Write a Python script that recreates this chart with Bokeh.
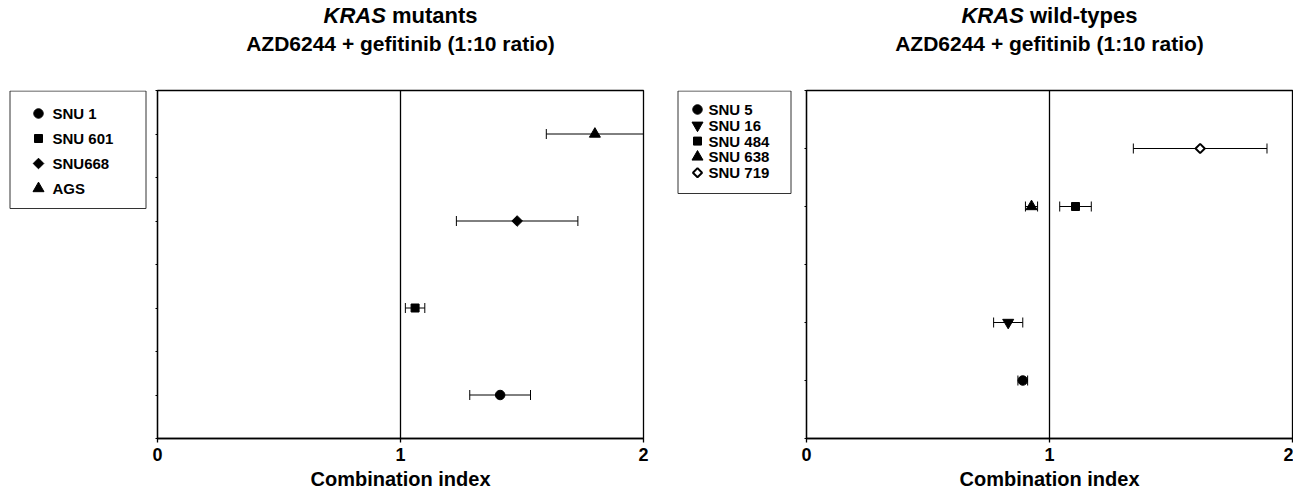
import math
from bokeh.plotting import figure
from bokeh.models import (ColumnDataSource, Whisker, TeeHead, Span,
                          FixedTicker, Range1d)
from bokeh.layouts import row, column
from bokeh.core.properties import value
from bokeh.embed import file_html
from bokeh.resources import INLINE

FONT = "Liberation Sans"

# ---- data ----
left_lines = ["SNU 1", "SNU 601", "SNU668", "AGS"]
left_ci = [1.41, 1.06, 1.48, 1.80]
left_err = [0.125, 0.04, 0.25, 0.20]
left_pos = [1, 3, 5, 7]
left_markers = ["circle", "square", "diamond", "triangle"]

right_lines = ["SNU 5", "SNU 16", "SNU 484", "SNU 638", "SNU 719"]
right_ci = [0.89, 0.83, 1.107, 0.926, 1.62]
right_err = [0.02, 0.06, 0.065, 0.025, 0.275]
right_pos = [1, 2, 4, 4, 5]
right_markers = ["circle", "inverted_triangle", "square", "triangle", "open_diamond"]

x_ticks = [0, 1, 2]
x_label = "Combination index"
subtitle = "AZD6244 + gefitinib (1:10 ratio)"
title_italic = ["KRAS", "KRAS"]
title_rest = ["mutants", "wild-types"]

# ---- styles / layout ----
MARKER_STYLE = {
    "circle": dict(marker="circle", size=9.5, fill_color="black", line_color="black", angle=0, line_width=1),
    "square": dict(marker="square", size=8, fill_color="black", line_color="black", angle=0, line_width=1),
    "diamond": dict(marker="square", size=7.5, fill_color="black", line_color="black", angle=math.pi / 4, line_width=1),
    "triangle": dict(marker="triangle", size=11, fill_color="black", line_color="black", angle=0, line_width=1),
    "inverted_triangle": dict(marker="inverted_triangle", size=11, fill_color="black", line_color="black", angle=0, line_width=1),
    "open_diamond": dict(marker="square", size=6.5, fill_color="white", line_color="black", angle=math.pi / 4, line_width=2),
}

W, H = 1293, 494
STRIP_H = 60
BODY_H = H - STRIP_H
B_TOP = 30          # frame top at window y = 90
B_BOT = 56          # frame bottom at window y = 438
F_TOP = STRIP_H + B_TOP
F_BOT = H - B_BOT


def base_fig(width, height, xr, yr, bt=0, bb=0):
    f = figure(width=width, height=height, output_backend="svg", toolbar_location=None,
               x_range=xr, y_range=yr, x_axis_type=None, y_axis_type=None,
               min_border_left=0, min_border_right=0,
               min_border_top=bt, min_border_bottom=bb)
    f.outline_line_color = None
    f.xgrid.visible = False
    f.ygrid.visible = False
    f.background_fill_color = "white"
    f.border_fill_color = "white"
    return f


def make_panel(ci, err, pos, markers, ymax, width, bl, br):
    p = figure(width=width, height=BODY_H, output_backend="svg", toolbar_location=None,
               x_range=Range1d(0, 2), y_range=Range1d(0, ymax),
               min_border_left=bl, min_border_right=br,
               min_border_top=B_TOP, min_border_bottom=B_BOT)
    p.background_fill_color = "white"
    p.border_fill_color = "white"
    p.outline_line_color = "black"
    p.outline_line_width = 1.3
    p.xgrid.visible = False
    p.ygrid.visible = False

    xa = p.xaxis[0]
    xa.ticker = FixedTicker(ticks=x_ticks)
    xa.major_label_text_font = FONT
    xa.major_label_text_font_style = "bold"
    xa.major_label_text_font_size = "18px"
    xa.major_label_text_color = "black"
    xa.major_label_standoff = 5
    xa.major_tick_out = 4
    xa.major_tick_in = 0
    xa.minor_tick_out = 0
    xa.minor_tick_in = 0
    xa.axis_line_width = 1.3
    xa.major_tick_line_width = 1.3
    xa.axis_label = x_label
    xa.axis_label_text_font = FONT
    xa.axis_label_text_font_style = "bold"
    xa.axis_label_text_font_size = "20px"
    xa.axis_label_text_color = "black"
    xa.axis_label_standoff = 4

    ya = p.yaxis[0]
    yt = list(range(0, ymax + 1))
    ya.ticker = FixedTicker(ticks=yt)
    ya.major_label_overrides = {t: "" for t in yt}
    ya.major_label_standoff = 0
    ya.major_tick_out = 2
    ya.major_tick_in = 0
    ya.minor_tick_out = 0
    ya.minor_tick_in = 0
    ya.axis_line_width = 1.3

    p.add_layout(Span(location=1, dimension="height", line_color="black",
                      line_width=1.3, level="underlay"))

    src = ColumnDataSource(dict(y=pos, lo=[c - e for c, e in zip(ci, err)],
                                hi=[c + e for c, e in zip(ci, err)]))
    wh = Whisker(source=src, base="y", lower="lo", upper="hi", dimension="width",
                 line_color="black", line_width=1, level="underlay",
                 lower_head=TeeHead(size=10, line_color="black", line_width=1),
                 upper_head=TeeHead(size=10, line_color="black", line_width=1))
    p.add_layout(wh)

    for c, y, m in zip(ci, pos, markers):
        p.scatter(x=[c], y=[y], **MARKER_STYLE[m])
    return p


def make_legend(x0, x1, box, lines, markers, mx, tx, ty0, step, fs):
    # legend drawn in window-pixel coordinates (y downward) over the frame rows
    f = base_fig(x1 - x0, BODY_H, Range1d(x0, x1), Range1d(F_BOT, F_TOP), B_TOP, B_BOT)
    bl, br, bt, bb = box
    f.quad(left=[bl], right=[br], top=[max(bt, F_TOP + 0.5)], bottom=[bb],
           fill_color="white", line_color="#333333", line_width=1)
    for i, (name, m) in enumerate(zip(lines, markers)):
        yy = ty0 + i * step
        f.scatter(x=[mx], y=[yy], **MARKER_STYLE[m])
        f.text(x=[tx], y=[yy], text=[name], text_font=value(FONT),
               text_font_style="bold", text_font_size=f"{fs}px",
               text_align="left", text_baseline="middle", text_color="black")
    return f


leg1 = make_legend(0, 150, (9.5, 145.5, 90, 208), left_lines, left_markers,
                   38, 52, 113, 25, 15)
p1 = make_panel(left_ci, left_err, left_pos, left_markers, 8, 510, 7, 17)
leg2 = make_legend(660, 800, (677.5, 790.5, 87, 193), right_lines, right_markers,
                   697, 708, 109, 15.8, 15)
p2 = make_panel(right_ci, right_err, right_pos, right_markers, 6, 493, 6, 1)

# ---- title strip ----
strip = base_fig(W, STRIP_H, Range1d(0, W), Range1d(0, STRIP_H))
centers = [157 + 243, 806 + 243]
rest_em = [4.167, 5.168]
TFS = 22
for cx, ti, tr, rem in zip(centers, title_italic, title_rest, rest_em):
    split = cx - (2.833 + rem) * TFS / 2 + 2.833 * TFS
    strip.text(x=[split], y=[STRIP_H - 15], text=[ti], text_font=value(FONT),
               text_font_style="bold italic", text_font_size=f"{TFS}px",
               text_align="right", text_baseline="middle", text_color="black")
    strip.text(x=[split + 0.278 * TFS], y=[STRIP_H - 15], text=[tr], text_font=value(FONT),
               text_font_style="bold", text_font_size=f"{TFS}px",
               text_align="left", text_baseline="middle", text_color="black")
    strip.text(x=[cx], y=[STRIP_H - 43], text=[subtitle], text_font=value(FONT),
               text_font_style="bold", text_font_size="21px",
               text_align="center", text_baseline="middle", text_color="black")

layout = column(strip, row(leg1, p1, leg2, p2))
open("out.html", "w").write(file_html(layout, INLINE))
